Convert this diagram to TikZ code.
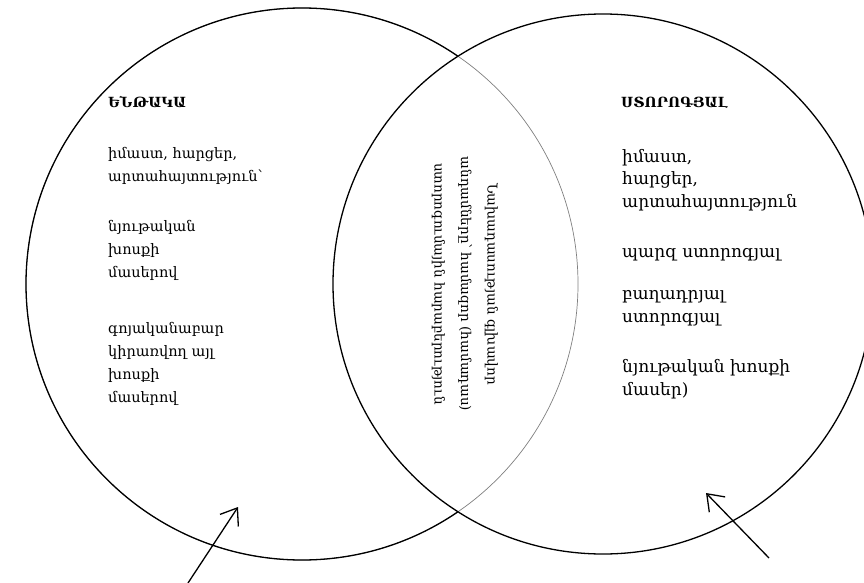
\documentclass[tikz,border=0pt]{standalone}
\usepackage{fontspec}
\setmainfont{DejaVu Serif}
\newfontfamily\arm{DejaVu Serif}
\usetikzlibrary{arrows.meta,intersections}
\begin{document}
\begin{tikzpicture}[x=1pt,y=-1pt,
  ring/.style={line width=1.3pt, black},
  ringlight/.style={line width=0.7pt, gray},
  headtxt/.style={anchor=base west, inner sep=0pt, font=\arm\bfseries\fontsize{14}{20}\selectfont},
  bodyl/.style={anchor=base west, inner sep=0pt, align=left, font=\arm\fontsize{14.5}{23}\selectfont},
  bodyr/.style={anchor=base west, inner sep=0pt, align=left, font=\arm\fontsize{17}{22.5}\selectfont},
  midtxt/.style={inner sep=0pt, align=center, rotate=-90, font=\arm\fontsize{13.5}{26.5}\selectfont},
  pointer/.style={line width=1.3pt, -{Straight Barb[length=15pt,width=22pt,line width=1.3pt]}}]
\useasboundingbox (0,0) rectangle (864,583);
\fill[white] (0,0) rectangle (864,583);
\coordinate (L) at (302,284);
\coordinate (R) at (603,284);
\path[name path=EL] (L) circle[radius=276pt];
\path[name path=ER] (R) circle[radius=270pt];
\path[name intersections={of=EL and ER, by={i1,i2}}];
\begin{scope}
  \clip (0,0) rectangle (864,583);
  \draw[ringlight] (L) circle[radius=276pt];
  \begin{scope}
    \clip (-10,-10) rectangle (i1 |- 0,600);
    \draw[ring] (L) circle[radius=276pt];
  \end{scope}
  \draw[ring] (R) circle[radius=270pt];
\end{scope}
% left set
\node[headtxt] (h1) at (108,108) {ԵՆԹԱԿԱ};
\node[bodyl] (l1) at (108,181) {իմաստ, հարցեր,\\արտահայտություն՝};
\node[bodyl] (l2) at (108,277) {նյութական\\խոսքի\\մասերով};
\node[bodyl] (l3) at (108,402) {գոյականաբար\\կիրառվող այլ\\խոսքի\\մասերով};
% right set
\node[headtxt] (h2) at (621,108) {ՍՏՈՐՈԳՅԱԼ};
\node[bodyr] (r1) at (622,207) {իմաստ,\\հարցեր,\\արտահայտություն};
\node[bodyr] (r2) at (622,257) {պարզ ստորոգյալ};
\node[bodyr] (r3) at (622,322) {բաղադրյալ\\ստորոգյալ};
\node[bodyr] (r4) at (622,395) {նյութական խոսքի\\մասեր)};
% middle
\node[midtxt] (m) at (465,284) {Նախադասության գլխավոր\\անդամները՝ համազոր (համադաս)\\ստորոգումային հարաբերություն};
% arrows
\coordinate (a1s) at (188,583);
\coordinate (a1e) at (238,507);
\coordinate (a2s) at (769,558);
\coordinate (a2e) at (706,493);
\draw[pointer] (a1s) -- (a1e);
\draw[pointer] (a2s) -- (a2e);
\end{tikzpicture}
\end{document}
